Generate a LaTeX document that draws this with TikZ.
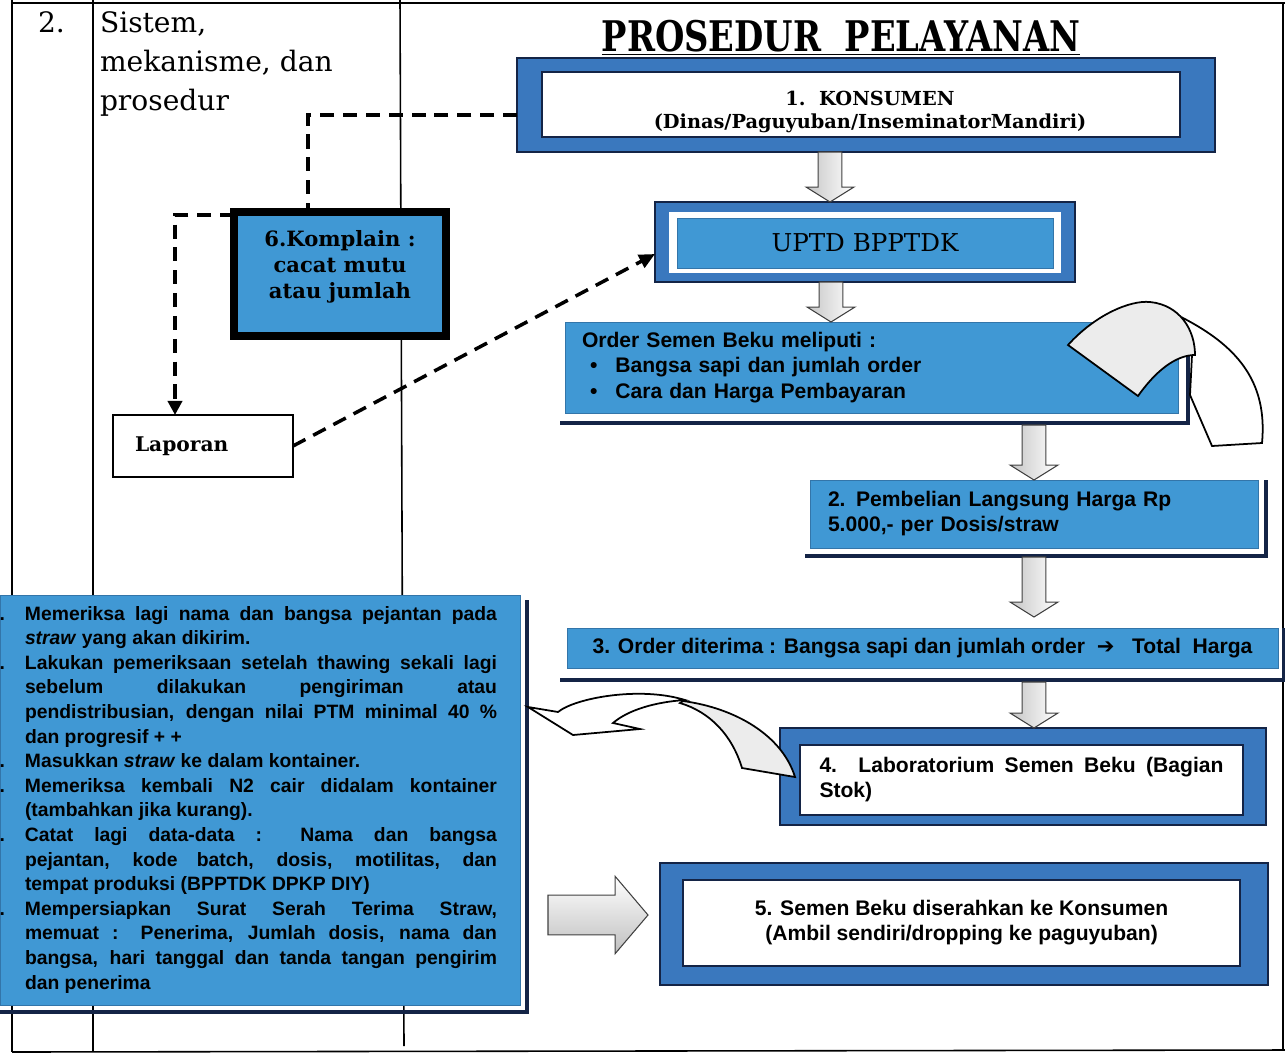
\documentclass[tikz,border=0pt]{standalone}
\usepackage{fontspec}
\usepackage{graphicx}
\setmainfont{DejaVu Serif}
\newfontfamily\arialfont{Liberation Sans}
\newfontfamily\symfont{DejaVu Sans}
\usetikzlibrary{calc,arrows.meta}
\definecolor{boxblue}{RGB}{64,152,212}
\definecolor{frameblue}{RGB}{58,120,190}
\definecolor{navy}{RGB}{20,36,70}
\tolerance=10000
\hyphenpenalty=10000

\begin{document}
\begin{tikzpicture}[x=0.2cm,y=0.2cm]
    \tikzstyle{every node}+=[inner sep=0pt, outer sep=0pt]
    \tikzstyle{tableline}=[line width=0.9pt]
    \tikzstyle{bluframe}=[fill=frameblue, draw=navy, line width=1.5pt]
    \tikzstyle{inwhite}=[fill=white, draw=navy, line width=0.9pt]
    \tikzstyle{boxfill}=[fill=boxblue, draw=boxblue!70!navy, line width=0.5pt]
    \tikzstyle{shadowline}=[draw=navy, line width=2.2pt]
    \tikzstyle{dashline}=[line width=2pt, dash pattern=on 8pt off 5pt]
    \tikzstyle{sanstext}=[font=\arialfont\bfseries\fontsize{12}{14.2}\selectfont]
    \tikzstyle{blockdown}=[draw=black!75, line width=0.6pt, left color=gray!45, right color=white,
        to path={let \p1=(\tikztostart), \p2=(\tikztotarget) in
        (\x1-6.8pt,\y1) -- (\x1+6.8pt,\y1) -- (\x1+6.8pt,\y2+8.5pt) -- (\x1+13.6pt,\y2+8.5pt)
        -- (\x1,\y2) -- (\x1-13.6pt,\y2+8.5pt) -- (\x1-6.8pt,\y2+8.5pt) -- cycle}]
    \tikzstyle{blockright}=[draw=black!75, line width=0.6pt, top color=white, bottom color=gray!50,
        to path={let \p1=(\tikztostart), \p2=(\tikztotarget) in
        (\x1,\y1+11.3pt) -- (\x2-18.7pt,\y1+11.3pt) -- (\x2-18.7pt,\y1+22pt) -- (\x2,\y1)
        -- (\x2-18.7pt,\y1-22pt) -- (\x2-18.7pt,\y1-11.3pt) -- (\x1,\y1-11.3pt) -- cycle}]
    \useasboundingbox (0,0) rectangle (128.5,-105.6);
    \draw [tableline] (1.2,-0.3) -- (128.5,-0.3);
    \draw [tableline] (1.2,0) -- (1.2,-105.2);
    \draw [tableline] (9.3,0) -- (9.3,-105.2);
    \draw [tableline] (40.0,0) -- (40.4,-104.6);
    \draw [tableline] (128.3,-0.3) -- (128.3,-105.0);
    \draw [tableline] (1.2,-105.2) -- (128.5,-105.0);
    \node [anchor=north west, font=\fontsize{16}{22}\selectfont] (nomor) at (3.8,-1.2) {2.};
    \node [anchor=north west, align=left, font=\fontsize{16}{22}\selectfont] (aspek) at (10.0,-1.2) {Sistem,\\mekanisme, dan\\prosedur};
    \node [anchor=base, font=\bfseries\fontsize{20}{24}\selectfont] (title) at (84.1,-5.1) {\scalebox{0.96}[1.2]{\underline{PROSEDUR\ \ PELAYANAN}}};
    \node [boxfill, minimum width=10.4cm, minimum height=8.2cm] (list) at (26,-80) {};
    \node [anchor=north west, text width=9.44cm, align=justify, font=\arialfont\bfseries\fontsize{11}{14}\selectfont] (listtext) at (2.5,-60.6) {%
        \leavevmode\llap{.\hspace{0.4cm}}Memeriksa lagi nama dan bangsa pejantan pada\linebreak \textit{straw} yang akan dikirim.\par
        \leavevmode\llap{.\hspace{0.4cm}}Lakukan pemeriksaan setelah thawing sekali lagi\linebreak sebelum dilakukan pengiriman atau\linebreak pendistribusian, dengan nilai PTM minimal 40~\%\linebreak dan progresif + +\par
        \leavevmode\llap{.\hspace{0.4cm}}Masukkan \textit{straw} ke dalam kontainer.\par
        \leavevmode\llap{.\hspace{0.4cm}}Memeriksa kembali N2 cair didalam kontainer\linebreak (tambahkan jika kurang).\par
        \leavevmode\llap{.\hspace{0.4cm}}Catat lagi data-data : Nama dan bangsa\linebreak pejantan, kode batch, dosis, motilitas, dan\linebreak tempat produksi (BPPTDK DPKP DIY)\par
        \leavevmode\llap{.\hspace{0.4cm}}Mempersiapkan Surat Serah Terima Straw,\linebreak memuat : Penerima, Jumlah dosis, nama dan\linebreak bangsa, hari tanggal dan tanda tangan pengirim\linebreak dan penerima};
    \node [bluframe, minimum width=13.96cm, minimum height=1.88cm] (kons) at (86.6,-10.5) {};
    \node [inwhite, minimum width=12.76cm, minimum height=1.3cm] (konsin) at (86.1,-10.45) {};
    \node [align=center, font=\bfseries\fontsize{11}{13.6}\selectfont] (konstext) at (87.0,-11.2) {1.\ \ KONSUMEN\\(Dinas/Paguyuban/InseminatorMandiri)};
    \node [bluframe, minimum width=8.4cm, minimum height=1.6cm] (uptd) at (86.5,-24.2) {};
    \node [fill=white, minimum width=7.84cm, minimum height=1.22cm] (uptdgap) at (86.5,-24.25) {};
    \node [boxfill, minimum width=7.52cm, minimum height=1.0cm, font=\fontsize{14}{16}\selectfont] (uptdin) at (86.5,-24.3) {UPTD BPPTDK};
    \node [boxfill, minimum width=12.26cm, minimum height=1.82cm, text width=11.58cm, align=left, font=\arialfont\bfseries\fontsize{12}{14.7}\selectfont] (order) at (87.15,-36.75) {Order Semen Beku meliputi :\\\hspace*{0.16cm}\textbullet\hspace{0.36cm}Bangsa sapi dan jumlah order\\\hspace*{0.16cm}\textbullet\hspace{0.36cm}Cara dan Harga Pembayaran};
    \node [boxfill, sanstext, minimum width=8.96cm, minimum height=1.36cm, text width=8.24cm, align=left] (beli) at (103.4,-51.4) {2. Pembelian Langsung Harga Rp\\5.000,- per Dosis/straw};
    \node [boxfill, sanstext, minimum width=14.22cm, minimum height=0.8cm] (terima) at (92.25,-64.8) {3. Order diterima : Bangsa sapi dan jumlah order\ \ {\symfont ➔}\ \ \ Total\ \ Harga};
    \node [bluframe, minimum width=9.72cm, minimum height=1.94cm] (lab) at (102.3,-77.65) {};
    \node [inwhite, sanstext, minimum width=8.86cm, minimum height=1.4cm, text width=8.08cm, align=justify] (labin) at (102.15,-78.0) {4. Laboratorium Semen Beku (Bagian\linebreak Stok)};
    \node [bluframe, minimum width=12.16cm, minimum height=2.44cm] (semen) at (96.4,-92.4) {};
    \node [inwhite, sanstext, minimum width=11.14cm, minimum height=1.72cm, align=center] (semenin) at (96.15,-92.3) {5. Semen Beku diserahkan ke Konsumen\\(Ambil sendiri/dropping ke paguyuban)};
    \node [fill=boxblue, draw=black, line width=4pt, minimum width=4.24cm, minimum height=2.48cm] (komplain) at (34,-27.4) {};
    \node [align=center, font=\bfseries\fontsize{12}{14.7}\selectfont] (komplaintext) at (34,-26.7) {6.Komplain :\\cacat mutu\\atau jumlah};
    \node [fill=white, draw=black, line width=1pt, minimum width=3.6cm, minimum height=1.24cm, text width=2.72cm, align=left, font=\bfseries\fontsize{11.5}{13}\selectfont] (laporan) at (20.3,-44.6) {Laporan};
    \draw [shadowline] ($(order.north east)+(1.0,-0.8)$) -- ($(order.south east)+(1.0,-1.0)$) -- ($(order.south west)+(-0.5,-1.0)$);
    \draw [shadowline] ($(beli.north east)+(0.8,0)$) -- ($(beli.south east)+(0.8,-0.8)$) -- ($(beli.south west)+(-0.5,-0.8)$);
    \draw [shadowline] ($(terima.north east)+(0.6,0)$) -- ($(terima.south east)+(0.6,-1.2)$) -- ($(terima.south west)+(-0.7,-1.2)$);
    \draw [shadowline] ($(list.north east)+(0.7,-0.5)$) -- ($(list.south east)+(0.7,-0.7)$) -- ($(list.south west)+(0,-0.7)$);
    \draw [blockdown] ($(kons.south)+(-3.6,0)$) to (uptd.north);
    \draw [blockdown] ($(uptd.south)+(-3.4,0)$) to (order.north);
    \draw [blockdown] ($(order.south -| beli.north)+(0,-1.2)$) to (beli.north);
    \draw [blockdown] ($(beli.south)+(0,-0.9)$) to ($(terima.north)+(0,1.1)$);
    \draw [blockdown] ($(terima.south -| beli.south)+(0,-1.4)$) to (lab.north);
    \draw [blockright] ($(list.east |- semen.west)+(2.8,0.9)$) to ($(semen.west)+(-1.2,0)$);
    \draw [dashline] ($(kons.west)+(0,-1.0)$) -| ($(komplain.north)+(-3.2,0)$);
    \draw [dashline, -{Triangle[length=8pt,width=8pt]}] ($(komplain.north west)+(0,-0.3)$) -| ($(laporan.north)+(-2.8,0)$);
    \draw [dashline, -{Triangle[length=9pt,width=8pt]}] (laporan.east) -- ($(uptd.west)+(0,-1.2)$);
    \draw [black, line width=1pt, fill=white] (118.3,-31.8) .. controls (123.5,-34.5) and (126.8,-38.0) .. (126.2,-44.3) -- (121.2,-44.6) -- (119.0,-39.5) -- (119.2,-35.5) -- cycle;
    \draw [black, line width=1pt, fill=gray!15] (106.8,-34.5) .. controls (109.5,-31.5) and (113.0,-30.0) .. (115.0,-30.2) .. controls (118.0,-30.5) and (119.5,-33.0) .. (119.5,-35.5) .. controls (118.0,-35.5) and (116.0,-36.5) .. (113.8,-39.6) -- cycle;
    \draw [black, line width=1pt, fill=white] (52.8,-70.7) -- (55.8,-71.2) .. controls (57.5,-69.8) and (64.0,-68.6) .. (68.5,-70.0) .. controls (65.5,-70.2) and (62.8,-71.0) .. (61.3,-72.3) -- (64.0,-72.9) -- (57.3,-73.5) -- cycle;
    \draw [black, line width=1pt, fill=gray!15] (68.3,-70.1) .. controls (73.5,-70.8) and (78.2,-73.5) .. (79.5,-77.7) -- (74.2,-76.8) .. controls (73.2,-73.5) and (71.0,-71.2) .. (68.0,-70.3) -- cycle;
\end{tikzpicture}
\end{document}
